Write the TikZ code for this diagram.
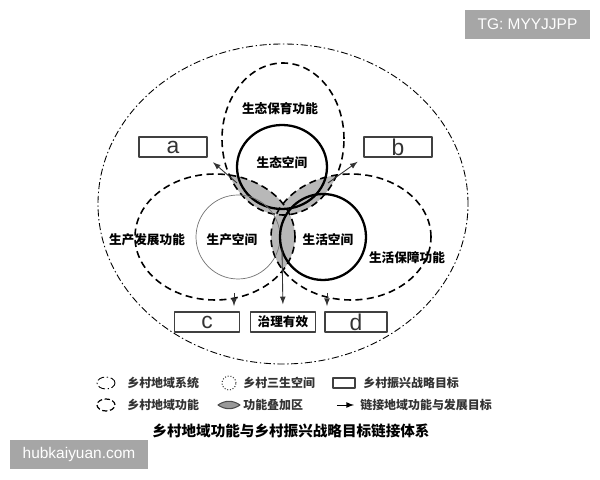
\documentclass[tikz,border=0pt]{standalone}
\usepackage{fontspec}
\usepackage{tikz}
\newfontfamily\cjk{Noto Sans CJK SC}
\newfontfamily\latin{Liberation Sans}
\usetikzlibrary{positioning}
\tikzset{>=latex,
  regionline/.style={line width=0.5pt, dash pattern=on 4pt off 1.5pt on 0.8pt off 1.5pt},
  funcline/.style={line width=0.9pt, dash pattern=on 4pt off 2.5pt},
  overlap/.style={fill=black!28},
  goalbox/.style={draw=black!75, line width=0.8pt, minimum width=1.3cm, minimum height=0.4cm, inner sep=0pt},
  letter/.style={font=\latin\fontsize{13}{13}\selectfont, text=black!80},
  lbl/.style={font=\cjk\bfseries\fontsize{7.2}{8}\selectfont},
  legtext/.style={font=\cjk\bfseries\fontsize{6.8}{7}\selectfont, text=black!80, anchor=west, inner sep=0pt},
  mark box/.style={fill=black!35, text=white, font=\latin\fontsize{8.8}{9}\selectfont, inner sep=0pt}
}
\begin{document}
\begin{tikzpicture}[x=0.02cm, y=0.02cm, line join=round]
    \useasboundingbox (0,0) rectangle (600,480);
    \begin{scope}
        \clip (283,341) ellipse [x radius=61, y radius=76];
        \fill[overlap] (215,243) ellipse [x radius=80, y radius=63];
        \fill[overlap] (351,243) ellipse [x radius=80, y radius=63];
    \end{scope}
    \begin{scope}
        \clip (215,243) ellipse [x radius=80, y radius=63];
        \fill[overlap] (351,243) ellipse [x radius=80, y radius=63];
    \end{scope}
    \draw[regionline] (283,276) ellipse [x radius=185, y radius=160];
    \draw[funcline] (283,341) ellipse [x radius=61, y radius=76];
    \draw[funcline] (215,243) ellipse [x radius=80, y radius=63];
    \draw[funcline] (351,243) ellipse [x radius=80, y radius=63];
    \draw[line width=1.3pt] (282,313) ellipse [x radius=45, y radius=42];
    \draw[black!55, line width=0.4pt] (238,243) circle [radius=42];
    \draw[line width=1.3pt] (323,243) circle [radius=43];
    \node[lbl] (eco) at (280,371) {生态保育功能};
    \node[lbl] (ecos) at (282,317) {生态空间};
    \node[lbl] (pros) at (232,240) {生产空间};
    \node[lbl] (lifs) at (328,240) {生活空间};
    \node[lbl] (pro) at (147,240) {生产发展功能};
    \node[lbl] (lif) at (407,222) {生活保障功能};
    \node[goalbox, letter, minimum width=1.36cm] (a) at (173,333) {a};
    \node[goalbox, letter, minimum width=1.36cm] (b) at (398,333) {b};
    \node[goalbox, letter] (c) at (207,158) {c};
    \node[goalbox, lbl] (gov) at (283,158) {治理有效};
    \node[goalbox, letter, minimum width=1.24cm] (d) at (356,158) {d};
    \coordinate (ta) at (237,297);
    \coordinate (tb) at (328,297);
    \coordinate (tg) at (282,232);
    \coordinate (tc) at (234,187);
    \coordinate (td) at (327,187);
    \draw[->, black!80, line width=0.5pt, shorten >=4pt] (ta) -- (a.south east);
    \draw[->, black!80, line width=0.5pt, shorten >=4pt] (tb) -- (b.south west);
    \draw[->, black!80, line width=0.5pt, shorten >=4pt] (tg) -- (gov.north);
    \draw[->, black!80, line width=0.5pt, dashed, shorten >=3pt] (tc) -- (c.north -| tc);
    \draw[->, black!80, line width=0.5pt, dashed, shorten >=3pt] (td) -- (d.north -| td);
    % legend
    \draw[regionline] (106,97) ellipse [x radius=9, y radius=6];
    \node[legtext] (l1) at (127,97) {乡村地域系统};
    \draw[black!75, densely dotted, line width=0.6pt] (229,97) circle [radius=7];
    \node[legtext] (l2) at (243,97) {乡村三生空间};
    \draw[black!75, line width=0.6pt] (333,92) rectangle (355,102);
    \node[legtext] (l3) at (363,97) {乡村振兴战略目标};
    \draw[funcline, line width=0.7pt, dash pattern=on 3pt off 1.5pt] (106,75) ellipse [x radius=9, y radius=6];
    \node[legtext] (l4) at (127,75) {乡村地域功能};
    \draw[black!70, fill=black!40, line width=0.6pt] (218,75) to[bend left=35] (240,75) to[bend left=35] cycle;
    \node[legtext] (l5) at (243,75) {功能叠加区};
    \coordinate (ka) at (337,75);
    \coordinate (kb) at (354,75);
    \draw[->, line width=0.5pt] (ka) -- (kb);
    \node[legtext] (l6) at (360,75) {链接地域功能与发展目标};
    \node[font=\cjk\bfseries\fontsize{8.3}{9}\selectfont] (title) at (291,49) {乡村地域功能与乡村振兴战略目标链接体系};
    % marks
    \node[mark box, minimum width=2.5cm, minimum height=0.58cm] (tgmark) at (527.5,455.5) {TG: MYYJJPP};
    \node[mark box, minimum width=2.76cm, minimum height=0.58cm] (hubmark) at (79,25.5) {hubkaiyuan.com};
\end{tikzpicture}
\end{document}
